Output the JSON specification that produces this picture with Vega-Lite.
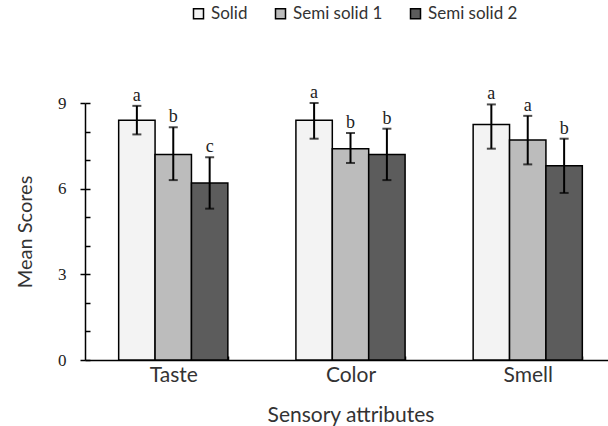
{
  "$schema": "https://vega.github.io/schema/vega-lite/v6.json",
  "width": 523,
  "height": 257,
  "autosize": "none",
  "padding": {"left": 85, "top": 103, "right": 0, "bottom": 66},
  "background": "white",
  "config": {
    "view": {"stroke": null},
    "axis": {"grid": false, "domainColor": "black", "tickColor": "black", "domainWidth": 1.5, "tickWidth": 1.5}
  },
  "data": {
    "values": [
      {"attr": "Taste", "type": "Solid", "mean": 8.4, "lo": 7.9, "hi": 8.9, "letter": "a"},
      {"attr": "Taste", "type": "Semi solid 1", "mean": 7.2, "lo": 6.3, "hi": 8.15, "letter": "b"},
      {"attr": "Taste", "type": "Semi solid 2", "mean": 6.2, "lo": 5.3, "hi": 7.1, "letter": "c"},
      {"attr": "Color", "type": "Solid", "mean": 8.4, "lo": 7.75, "hi": 9.0, "letter": "a"},
      {"attr": "Color", "type": "Semi solid 1", "mean": 7.4, "lo": 6.9, "hi": 7.95, "letter": "b"},
      {"attr": "Color", "type": "Semi solid 2", "mean": 7.2, "lo": 6.3, "hi": 8.1, "letter": "b"},
      {"attr": "Smell", "type": "Solid", "mean": 8.25, "lo": 7.4, "hi": 8.95, "letter": "a"},
      {"attr": "Smell", "type": "Semi solid 1", "mean": 7.7, "lo": 6.85, "hi": 8.55, "letter": "a"},
      {"attr": "Smell", "type": "Semi solid 2", "mean": 6.8, "lo": 5.85, "hi": 7.75, "letter": "b"}
    ]
  },
  "resolve": {"axis": {"y": "independent"}},
  "encoding": {
    "x": {
      "field": "attr",
      "type": "nominal",
      "sort": ["Taste", "Color", "Smell"],
      "scale": {"paddingInner": 0.384, "paddingOuter": 0.19, "range": [0, 531]},
      "axis": {
        "title": "Sensory attributes",
        "labelAngle": 0,
        "labelFont": "Lato",
        "labelFontSize": 21,
        "labelColor": "#333333",
        "labelPadding": 8,
        "tickBand": "extent",
        "tickSize": -4,
        "titleFont": "Lato",
        "titleFontSize": 21,
        "titleFontWeight": "normal",
        "titleColor": "#333333",
        "titlePadding": 19
      }
    },
    "xOffset": {
      "field": "type",
      "type": "nominal",
      "sort": ["Solid", "Semi solid 1", "Semi solid 2"],
      "scale": {"paddingInner": 0, "paddingOuter": 0}
    }
  },
  "layer": [
    {
      "mark": {"type": "bar", "stroke": "black", "strokeWidth": 1.5},
      "encoding": {
        "y": {
          "field": "mean",
          "type": "quantitative",
          "scale": {"domain": [0, 9], "nice": false},
          "axis": {
            "title": "Mean Scores",
            "orient": "left",
            "values": [0, 3, 6, 9],
            "tickSize": 5,
            "labelOverlap": false,
            "labelFont": "Liberation Serif",
            "labelFontSize": 17,
            "labelColor": "#222222",
            "labelPadding": 14,
            "titleFont": "Lato",
            "titleFontSize": 20,
            "titleFontWeight": "normal",
            "titleColor": "#333333",
            "titlePadding": 22
          }
        },
        "fill": {
          "field": "type",
          "type": "nominal",
          "sort": ["Solid", "Semi solid 1", "Semi solid 2"],
          "scale": {"domain": ["Solid", "Semi solid 1", "Semi solid 2"], "range": ["#f3f3f3", "#bcbcbc", "#5c5c5c"]},
          "legend": {
            "title": null,
            "orient": "none",
            "direction": "horizontal",
            "legendX": 105,
            "legendY": -98,
            "symbolType": "square",
            "symbolSize": 100,
            "symbolStrokeColor": "black",
            "symbolStrokeWidth": 1.5,
            "labelFont": "Lato",
            "labelFontSize": 17,
            "labelColor": "#333333",
            "columnPadding": 24
          }
        }
      }
    },
    {
      "mark": {"type": "rule", "color": "black", "strokeWidth": 2},
      "encoding": {
        "y": {
          "field": "lo",
          "type": "quantitative",
          "axis": {
            "orient": "left",
            "title": null,
            "values": [0, 1, 2, 3, 4, 5, 6, 7, 8, 9],
            "tickSize": -5,
            "labels": false,
            "domain": false
          }
        },
        "y2": {"field": "hi"}
      }
    },
    {
      "mark": {"type": "tick", "color": "black", "size": 9, "thickness": 2},
      "encoding": {"y": {"field": "lo", "type": "quantitative", "axis": null}}
    },
    {
      "mark": {"type": "tick", "color": "black", "size": 9, "thickness": 2},
      "encoding": {"y": {"field": "hi", "type": "quantitative", "axis": null}}
    },
    {
      "mark": {"type": "text", "font": "Liberation Serif", "fontSize": 18, "baseline": "alphabetic", "dy": -5, "color": "#222222"},
      "encoding": {
        "y": {"field": "hi", "type": "quantitative", "axis": null},
        "text": {"field": "letter"}
      }
    }
  ]
}
